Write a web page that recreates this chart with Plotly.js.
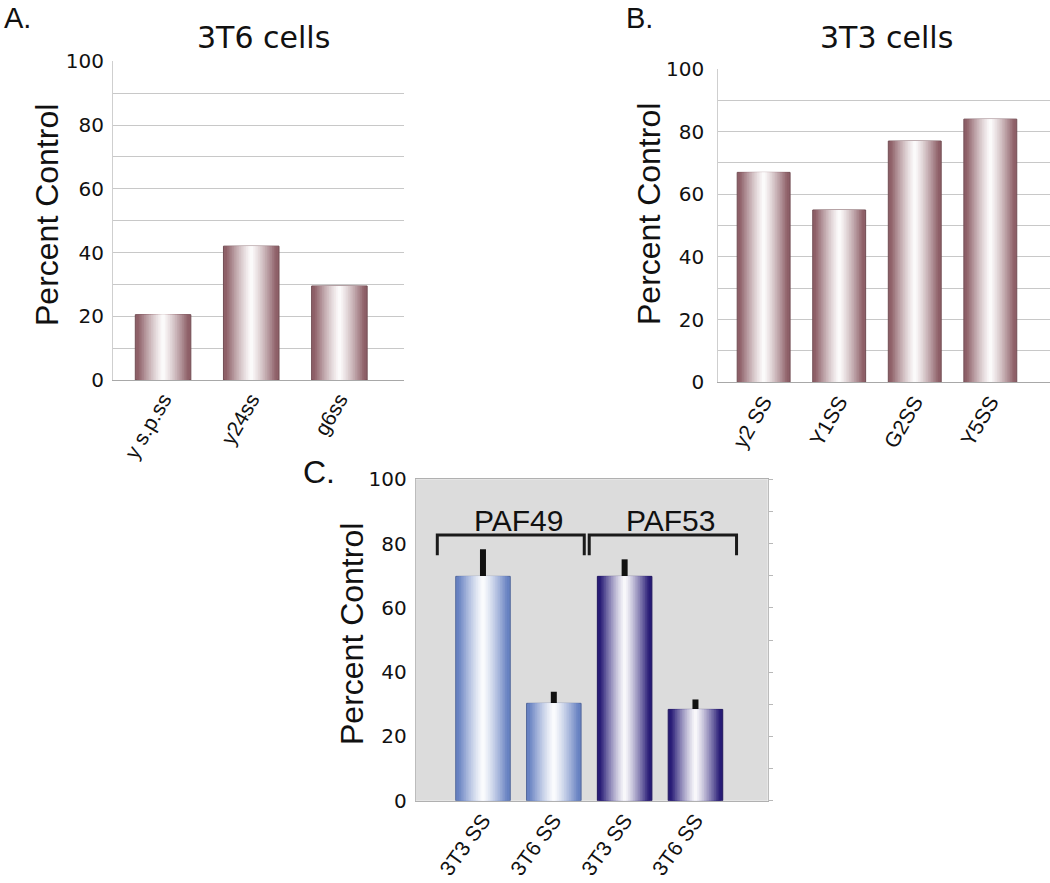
<!DOCTYPE html>
<html>
<head>
<meta charset="utf-8">
<script src="https://cdn.plot.ly/plotly-3.0.1.min.js"></script>
<style>html,body{margin:0;padding:0;background:#fff;}#chart{width:1050px;height:883px;}</style>
</head>
<body>
<div id="chart"></div>
<script>
// ---- data ----
const catsA = ['y s.p.ss', 'y24ss', 'g6ss'];
const valsA = [20.5, 42, 29.5];

const catsB = ['y2 SS', 'Y1SS', 'G2SS', 'Y5SS'];
const valsB = [67, 55, 77, 84];

const catsC = ['3T3 SS', '3T6 SS', '3T3 SS', '3T6 SS'];
const groupsC = ['PAF49', 'PAF49', 'PAF53', 'PAF53'];
const valsC = [69.8, 30.3, 69.8, 28.4];
const errC = [8.4, 3.6, 5.3, 3.1];

const yTicks = [0, 20, 40, 60, 80, 100];

// ---- styling helpers ----
const MAUVE = [142, 96, 104];
const LIGHTBLUE = [104, 130, 194];
const NAVY = [40, 28, 118];
const groupColor = {PAF49: LIGHTBLUE, PAF53: NAVY};
const N = 16;

function mix(rgb, f) {
  const c = rgb.map(v => Math.round(255 + (v - 255) * f));
  return 'rgb(' + c.join(',') + ')';
}

function gradientBars(vals, width, colorsRGB, xa, ya, err) {
  const xs = vals.map((_, i) => i);
  const traces = [];
  for (let k = 0; k < N; k++) {
    const frac = 1 - k / N;
    const f = Math.min(1, Math.pow(frac * 1.08, 1.25));
    const t = {
      type: 'bar', x: xs, y: vals, xaxis: xa, yaxis: ya,
      width: vals.map(() => width * frac),
      marker: {
        color: colorsRGB.map(c => mix(c, f)),
        line: {width: k === 0 ? 1 : 0, color: colorsRGB.map(c => mix(c.map(v => v * 0.8), 1))}
      },
      hoverinfo: 'skip', showlegend: false
    };
    if (k === 0 && err) {
      t.error_y = {type: 'data', symmetric: false, array: err, arrayminus: vals.map(() => 0),
                   color: '#111', thickness: 6, width: 0, visible: true};
    }
    traces.push(t);
  }
  return traces;
}

const traces = [].concat(
  gradientBars(valsA, 0.63, valsA.map(() => MAUVE), 'x', 'y'),
  gradientBars(valsB, 0.70, valsB.map(() => MAUVE), 'x2', 'y2'),
  gradientBars(valsC, 0.77, groupsC.map(g => groupColor[g]), 'x3', 'y3', errC)
);
// invisible trace to activate the right-side tick axis for panel C
traces.push({type: 'scatter', x: [0], y: [0], xaxis: 'x3', yaxis: 'y4', mode: 'markers',
             marker: {opacity: 0}, hoverinfo: 'skip', showlegend: false});

const FONT = 'Liberation Sans, Arial, sans-serif';
const WIDE = 'DejaVu Sans, sans-serif';
const tickFontY = {family: WIDE, size: 20, color: '#111'};
const tickFontX = {family: FONT, size: 21, color: '#111'};

function yAxis(domain, anchor, grid, standoff) {
  return {
    domain: domain, anchor: anchor, range: [0, 100], tickvals: yTicks,
    ticks: '', showgrid: grid, gridcolor: '#c8c8c8', gridwidth: 1,
    minor: grid ? {dtick: 10, showgrid: true, gridcolor: '#c8c8c8', gridwidth: 1} : undefined,
    zeroline: false, showline: true, linecolor: grid ? '#cfcfcf' : '#b8b8b8', linewidth: 1,
    tickfont: tickFontY, ticklabelstandoff: standoff, fixedrange: true
  };
}
function xAxis(domain, anchor, range, cats, angle) {
  return {
    domain: domain, anchor: anchor, range: range, tickvals: cats.map((_, i) => i), ticktext: cats,
    tickangle: angle, ticks: '', showgrid: false, zeroline: false, showline: true,
    linecolor: '#a8a8a8', linewidth: 1, tickfont: tickFontX, ticklabelstandoff: -2, fixedrange: true
  };
}

const W = 1050, H = 883;
const px = v => v / W, py = v => 1 - v / H;

function label(text, x, y, font, extra) {
  return Object.assign({text: text, xref: 'paper', yref: 'paper', x: px(x), y: py(y),
    xanchor: 'center', yanchor: 'middle', showarrow: false, font: font}, extra || {});
}
const letterFont = {family: FONT, size: 29, color: '#111'};
const titleFont = {family: WIDE, size: 30, color: '#111'};
const axTitleFont = {family: FONT, size: 32, color: '#111'};

const layout = {
  width: W, height: H, margin: {l: 0, r: 0, t: 0, b: 0},
  paper_bgcolor: '#fff', plot_bgcolor: 'rgba(0,0,0,0)',
  barmode: 'overlay', showlegend: false,
  xaxis: xAxis([px(113), px(404)], 'y', [-0.568, 2.733], catsA, -60),
  yaxis: yAxis([py(380), py(61.3)], 'x', true, 4),
  xaxis2: xAxis([px(718.3), 1], 'y2', [-0.60, 3.79], catsB, -60),
  yaxis2: yAxis([py(382.3), py(69)], 'x2', true, 9),
  xaxis3: Object.assign(xAxis([px(415.7), px(767.7)], 'y3', [-0.95, 4.02], catsC, -54), {mirror: true, linecolor: '#b0b0b0'}),
  yaxis3: Object.assign(yAxis([py(800.7), py(479.3)], 'x3', false, 4), {mirror: true, linecolor: '#bcbcbc'}),
  yaxis4: {domain: [py(800.7), py(479.3)], overlaying: 'y3', anchor: 'x3', side: 'right', range: [0, 100],
           dtick: 10, ticks: 'outside', ticklen: 4, tickcolor: '#b8b8b8', showticklabels: false,
           showgrid: false, zeroline: false, showline: false, fixedrange: true},
  shapes: [
    {type: 'rect', xref: 'x3 domain', yref: 'y3 domain', x0: 0, x1: 1, y0: 0, y1: 1,
     fillcolor: '#dcdcdc', line: {width: 0}, layer: 'below'},
    {type: 'path', xref: 'x3', yref: 'y3', path: 'M -0.645 76.4 L -0.645 82.7 L 1.43 82.7 L 1.43 76.4',
     line: {color: '#1a1a1a', width: 3}},
    {type: 'path', xref: 'x3', yref: 'y3', path: 'M 1.50 76.4 L 1.50 82.7 L 3.58 82.7 L 3.58 76.4',
     line: {color: '#1a1a1a', width: 3}}
  ],
  annotations: [
    label('A.', 17, 0, letterFont, {yanchor: 'top'}),
    label('B.', 639, 0, letterFont, {yanchor: 'top'}),
    label('C.', 319, 472, {family: FONT, size: 32, color: '#111'}),
    label('3T6 cells', 263, 38, titleFont),
    label('3T3 cells', 886.5, 38, titleFont),
    label('Percent Control', 47, 215, axTitleFont, {textangle: -90}),
    label('Percent Control', 649, 214, axTitleFont, {textangle: -90}),
    label('Percent Control', 352, 634, axTitleFont, {textangle: -90}),
    {text: 'PAF49', xref: 'x3', yref: 'y3', x: 0.51, y: 87.3, xanchor: 'center', yanchor: 'middle',
     showarrow: false, font: {family: FONT, size: 30, color: '#111'}},
    {text: 'PAF53', xref: 'x3', yref: 'y3', x: 2.655, y: 87.3, xanchor: 'center', yanchor: 'middle',
     showarrow: false, font: {family: FONT, size: 30, color: '#111'}}
  ]
};

Plotly.newPlot('chart', traces, layout, {displayModeBar: false, staticPlot: true});
</script>
</body>
</html>
